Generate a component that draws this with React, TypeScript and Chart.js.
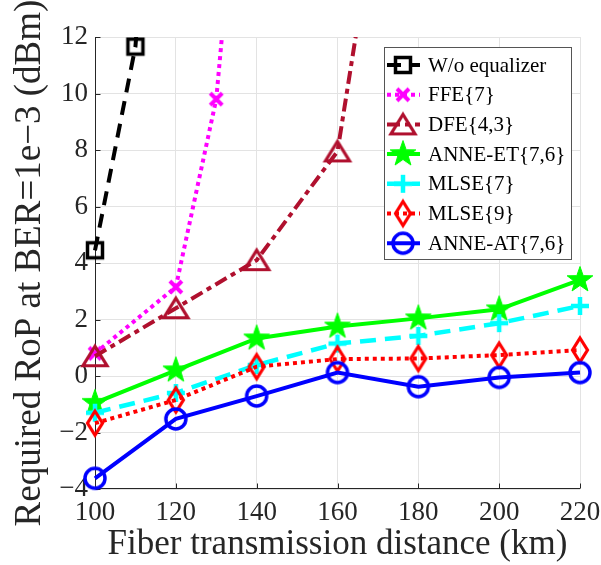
import React, { useEffect, useRef } from 'react';
import { Chart, registerables } from 'chart.js';

Chart.register(...registerables);

// ---------- data ----------
const xTickValues = [100, 120, 140, 160, 180, 200, 220];
const yMin = -4;
const yMax = 12;
const yStep = 2;

const seriesNames = [
  'W/o equalizer',
  'FFE{7}',
  'DFE{4,3}',
  'ANNE-ET{7,6}',
  'MLSE{7}',
  'MLSE{9}',
  'ANNE-AT{7,6}',
];

const woX = [100, 110, 120];
const woY = [4.45, 11.66, 30];

const ffeX = [100, 120, 130, 140];
const ffeY = [0.8, 3.15, 9.8, 25.5];

const dfeX = [100, 120, 140, 160, 180];
const dfeY = [0.7, 2.4, 4.1, 7.95, 26];

const distances = [100, 120, 140, 160, 180, 200, 220];
const anneEtY = [-0.95, 0.2, 1.33, 1.75, 2.04, 2.36, 3.4];
const mlse7Y = [-1.3, -0.6, 0.39, 1.15, 1.42, 1.87, 2.48];
const mlse9Y = [-1.67, -0.85, 0.33, 0.6, 0.62, 0.74, 0.92];
const anneAtY = [-3.62, -1.52, -0.71, 0.12, -0.38, -0.05, 0.12];

// ---------- styling ----------
const FONT = "'Liberation Serif', 'Times New Roman', serif";

type MarkerKind = 'square' | 'x' | 'triangle' | 'star' | 'plus' | 'diamond' | 'circle';

function makeMarker(kind: MarkerKind, color: string): HTMLCanvasElement {
  const S = 40;
  const c = document.createElement('canvas');
  c.width = S;
  c.height = S;
  const g = c.getContext('2d')!;
  g.translate(S / 2, S / 2);
  g.strokeStyle = color;
  g.fillStyle = color;
  g.lineJoin = 'miter';
  g.lineCap = 'butt';
  switch (kind) {
    case 'square':
      g.lineWidth = 3.5;
      g.strokeRect(-7.5, -7.5, 15, 15);
      break;
    case 'x':
      g.lineWidth = 4;
      g.beginPath();
      g.moveTo(-6, -6);
      g.lineTo(6, 6);
      g.moveTo(6, -6);
      g.lineTo(-6, 6);
      g.stroke();
      break;
    case 'triangle':
      g.lineWidth = 3.2;
      g.beginPath();
      g.moveTo(0, -10);
      g.lineTo(12, 9.5);
      g.lineTo(-12, 9.5);
      g.closePath();
      g.stroke();
      break;
    case 'star': {
      const R = 13.5;
      const r = 5.4;
      g.beginPath();
      for (let i = 0; i < 10; i++) {
        const rad = i % 2 === 0 ? R : r;
        const a = -Math.PI / 2 + (i * Math.PI) / 5;
        const px = rad * Math.cos(a);
        const py = rad * Math.sin(a);
        if (i === 0) g.moveTo(px, py);
        else g.lineTo(px, py);
      }
      g.closePath();
      g.fill();
      g.lineWidth = 1;
      g.stroke();
      break;
    }
    case 'plus':
      g.lineWidth = 4.5;
      g.beginPath();
      g.moveTo(-9, 0);
      g.lineTo(9, 0);
      g.moveTo(0, -9);
      g.lineTo(0, 9);
      g.stroke();
      break;
    case 'diamond':
      g.lineWidth = 3.2;
      g.beginPath();
      g.moveTo(0, -12);
      g.lineTo(7.5, 0);
      g.lineTo(0, 12);
      g.lineTo(-7.5, 0);
      g.closePath();
      g.stroke();
      break;
    case 'circle':
      g.lineWidth = 3.5;
      g.beginPath();
      g.arc(0, 0, 10, 0, Math.PI * 2);
      g.stroke();
      break;
  }
  return c;
}

interface SeriesStyle {
  color: string;
  marker: MarkerKind;
  dash: number[];
  width: number;
}

const styles: SeriesStyle[] = [
  { color: '#000000', marker: 'square', dash: [14, 9], width: 4 },
  { color: '#ff00ff', marker: 'x', dash: [4, 4], width: 4 },
  { color: '#b0102e', marker: 'triangle', dash: [13, 5, 5, 5], width: 4 },
  { color: '#00ff00', marker: 'star', dash: [], width: 4 },
  { color: '#00ffff', marker: 'plus', dash: [16, 9], width: 4.5 },
  { color: '#ff0000', marker: 'diamond', dash: [4, 4], width: 4 },
  { color: '#0000ff', marker: 'circle', dash: [], width: 4 },
];

function zip(xs: number[], ys: number[]) {
  return xs.map((x, i) => ({ x, y: ys[i] }));
}

const App: React.FC = () => {
  const canvasRef = useRef<HTMLCanvasElement | null>(null);

  useEffect(() => {
    document.body.style.margin = '0';
    const canvas = canvasRef.current;
    if (!canvas) return;

    const markers = styles.map((s) => makeMarker(s.marker, s.color));
    const seriesData = [
      zip(woX, woY),
      zip(ffeX, ffeY),
      zip(dfeX, dfeY),
      zip(distances, anneEtY),
      zip(distances, mlse7Y),
      zip(distances, mlse9Y),
      zip(distances, anneAtY),
    ];

    const datasets = seriesData.map((data, i) => ({
      label: seriesNames[i],
      data,
      borderColor: styles[i].color,
      backgroundColor: styles[i].color,
      borderWidth: styles[i].width,
      borderDash: styles[i].dash,
      borderCapStyle: 'butt' as const,
      pointStyle: markers[i] as any,
      pointRadius: 10,
      pointHoverRadius: 10,
      tension: 0,
      fill: false,
      order: seriesData.length - i,
      clip: { left: false, top: 0, right: false, bottom: false } as any,
    }));

    const axisPlugin = {
      id: 'matlabAxes',
      beforeDatasetsDraw(chart: any) {
        const { ctx, chartArea } = chart;
        const xs = chart.scales.x;
        const ys = chart.scales.y;
        const L = Math.round(chartArea.left) + 0.5;
        const B = Math.round(chartArea.bottom) - 0.5;
        ctx.save();
        ctx.strokeStyle = '#262626';
        ctx.lineWidth = 1;
        ctx.setLineDash([]);
        ctx.beginPath();
        ctx.moveTo(L, Math.round(chartArea.top));
        ctx.lineTo(L, B);
        ctx.lineTo(Math.round(chartArea.right), B);
        // inner ticks
        xTickValues.forEach((v) => {
          const px = Math.round(xs.getPixelForValue(v)) + 0.5;
          ctx.moveTo(px, B);
          ctx.lineTo(px, B - 5);
        });
        for (let v = yMin; v <= yMax; v += yStep) {
          const py = Math.round(ys.getPixelForValue(v)) + 0.5;
          ctx.moveTo(L, py);
          ctx.lineTo(L + 5, py);
        }
        ctx.stroke();
        ctx.restore();
      },
    };

    const legendPlugin = {
      id: 'matlabLegend',
      afterDatasetsDraw(chart: any) {
        const { ctx } = chart;
        const bx = 384.5;
        const by = 47.5;
        const bw = 187;
        const bh = 212;
        ctx.save();
        ctx.fillStyle = '#ffffff';
        ctx.fillRect(bx, by, bw, bh);
        ctx.strokeStyle = '#555555';
        ctx.lineWidth = 1;
        ctx.setLineDash([]);
        ctx.strokeRect(bx, by, bw, bh);
        ctx.font = `21px ${FONT}`;
        ctx.textBaseline = 'middle';
        ctx.textAlign = 'left';
        seriesNames.forEach((name, i) => {
          const cy = 65 + i * 29.7;
          const s = styles[i];
          ctx.strokeStyle = s.color;
          ctx.lineWidth = s.width;
          ctx.setLineDash(s.dash);
          ctx.beginPath();
          ctx.moveTo(387, cy);
          ctx.lineTo(420, cy);
          ctx.stroke();
          ctx.setLineDash([]);
          const m = markers[i];
          ctx.drawImage(m, 403 - m.width / 2, cy - m.height / 2);
          ctx.fillStyle = '#000000';
          ctx.fillText(name, 428, cy + 1);
        });
        ctx.restore();
      },
    };

    const chart = new Chart(canvas, {
      type: 'line',
      data: { datasets: datasets as any },
      options: {
        responsive: false,
        animation: false,
        devicePixelRatio: 1,
        layout: { padding: { left: 0, top: 37, right: 21, bottom: 0 } },
        plugins: {
          legend: { display: false },
          tooltip: { enabled: false },
        },
        scales: {
          x: {
            type: 'linear',
            min: 100,
            max: 220,
            afterFit: (scale: any) => {
              scale.height = 76;
              scale.paddingLeft = 0;
              scale.paddingRight = 0;
            },
            afterBuildTicks: (scale: any) => {
              scale.ticks = xTickValues.map((v) => ({ value: v }));
            },
            ticks: {
              autoSkip: false,
              maxRotation: 0,
              padding: 8,
              color: '#262626',
              font: { family: FONT, size: 27 },
              callback: (v: any) => String(v),
            },
            grid: { color: '#e3e3e3', drawTicks: false, lineWidth: 1 },
            border: { display: false },
            title: {
              display: true,
              text: 'Fiber transmission distance (km)',
              color: '#262626',
              font: { family: FONT, size: 35, lineHeight: 1.15 },
              padding: { top: 0, bottom: 0 },
            },
          },
          y: {
            type: 'linear',
            min: yMin,
            max: yMax,
            afterFit: (scale: any) => {
              scale.width = 95;
              scale.paddingTop = 0;
              scale.paddingBottom = 0;
            },
            ticks: {
              stepSize: yStep,
              padding: 7,
              color: '#262626',
              font: { family: FONT, size: 27 },
              callback: (v: any) => String(v).replace('-', '\u2212'),
            },
            grid: { color: '#e3e3e3', drawTicks: false, lineWidth: 1 },
            border: { display: false },
            title: {
              display: true,
              text: 'Required RoP at BER=1e\u22123 (dBm)',
              color: '#262626',
              font: { family: FONT, size: 37, lineHeight: 1.2 },
              padding: { top: 8, bottom: 0 },
            },
          },
        },
      },
      plugins: [axisPlugin, legendPlugin],
    });

    return () => {
      chart.destroy();
    };
  }, []);

  return (
    <div style={{ width: 601, height: 565, position: 'relative' }}>
      <canvas ref={canvasRef} width={601} height={565} style={{ display: 'block' }} />
    </div>
  );
};

export default App;
